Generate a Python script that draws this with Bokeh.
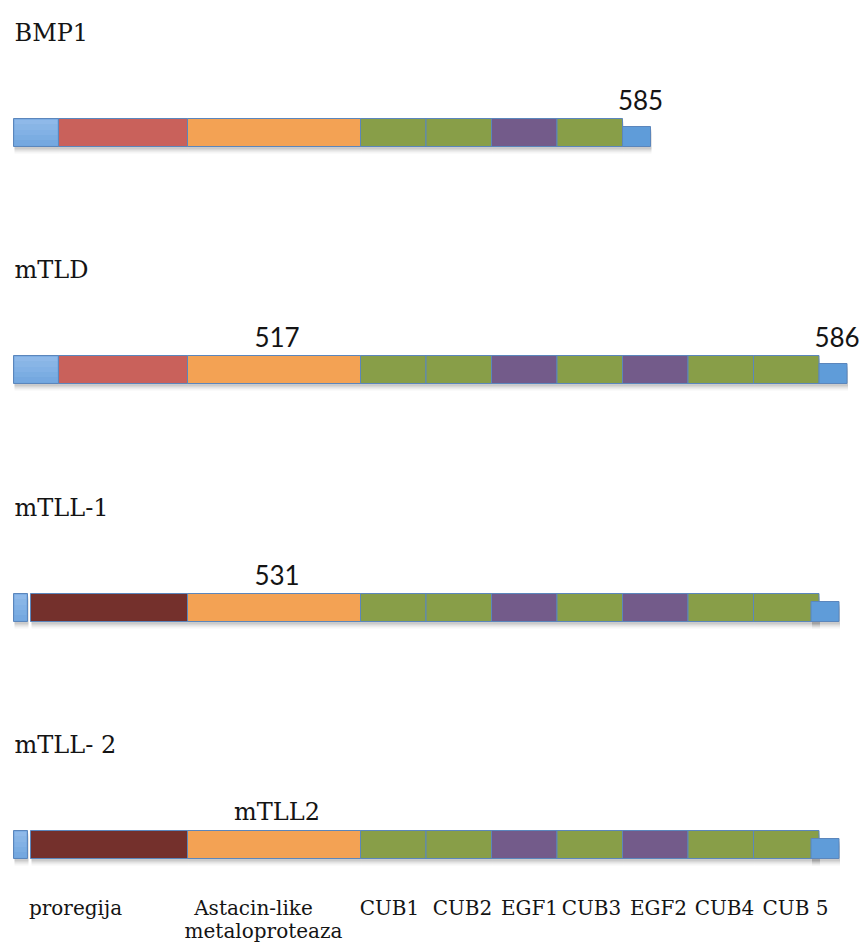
from bokeh.plotting import figure
from bokeh.models import Range1d, ColumnDataSource
from bokeh.core.properties import value
from bokeh.embed import file_html
from bokeh.resources import INLINE

# ---------------- data ----------------
proteins = ["BMP1", "mTLD", "mTLL-1", "mTLL- 2"]

arch_bmp1 = ["signal", "pro", "astacin", "CUB", "CUB", "EGF", "CUB"]
arch_mtld = ["signal", "pro", "astacin", "CUB", "CUB", "EGF", "CUB", "EGF", "CUB", "CUB"]
arch_mtll1 = ["signal_s", "gap", "pro_dark", "astacin", "CUB", "CUB", "EGF", "CUB", "EGF", "CUB", "CUB"]
arch_mtll2 = ["signal_s", "gap", "pro_dark", "astacin", "CUB", "CUB", "EGF", "CUB", "EGF", "CUB", "CUB"]
architectures = [arch_bmp1, arch_mtld, arch_mtll1, arch_mtll2]

domain_names = ["signal", "signal_s", "gap", "pro", "pro_dark", "astacin", "CUB", "EGF"]
domain_lengths = [45, 14, 3, 129, 157, 173, 65.5, 65.5]

tail_length = 28
tail_overlap = [0, 0, 8, 8]

annot_text = ["585", "517", "586", "531", "mTLL2"]
annot_row = [0, 1, 1, 2, 3]
annot_anchor = ["tail", "astacin", "tail", "astacin", "astacin"]
annot_font = ["sans", "sans", "sans", "sans", "serif"]

bottom_labels = ["proregija", "Astacin-like", "metaloproteaza", "CUB1", "CUB2",
                 "EGF1", "CUB3", "EGF2", "CUB4", "CUB 5"]
bottom_label_x = [75, 253, 263, 389, 462, 529, 591, 658, 724, 795]
bottom_label_line = [0, 0, 1, 0, 0, 0, 0, 0, 0, 0]

# ---------------- styles / layout ----------------
COLORS = {"signal": "#6FA4DE", "signal_s": "#6FA4DE", "pro": "#C9615B",
          "pro_dark": "#74302C", "astacin": "#F3A254", "CUB": "#889E48",
          "EGF": "#735B8A", "tail": "#5F9CD9"}
X0 = 13
ROW_TOP = [118, 355, 593, 830]
BAR_H = 28
TAIL_H = 20
TAIL_SHIFT = 4
TITLE_GAP = 86
ANNOT_GAP = 19
BOTTOM_BASE = 907
LINE_GAP = 23

length_of = dict(zip(domain_names, domain_lengths))

W, H = 863, 943
p = figure(width=W, height=H, output_backend="svg", toolbar_location=None,
           x_range=Range1d(0, W), y_range=Range1d(H, 0),
           min_border=0)
p.axis.visible = False
p.grid.visible = False
p.outline_line_color = None
p.background_fill_color = "white"
p.border_fill_color = "white"

seg = dict(left=[], right=[], top=[], bottom=[], color=[])
tails = dict(left=[], right=[], top=[], bottom=[], color=[])
sig = dict(left=[], right=[], top=[], bottom=[])
anchors = []
for r, arch in enumerate(architectures):
    x = X0
    top = ROW_TOP[r]
    anc = {}
    for d in arch:
        w = length_of[d]
        if d != "gap":
            seg["left"].append(x)
            seg["right"].append(x + w)
            seg["top"].append(top)
            seg["bottom"].append(top + BAR_H)
            seg["color"].append(COLORS[d])
            if d.startswith("signal"):
                sig["left"].append(x); sig["right"].append(x + w)
                sig["top"].append(top); sig["bottom"].append(top + BAR_H)
            if d not in anc:
                anc[d] = x + w / 2
        x += w
    tl = x - tail_overlap[r]
    tc = top + BAR_H / 2 + TAIL_SHIFT
    tails["left"].append(tl)
    tails["right"].append(tl + tail_length)
    tails["top"].append(tc - TAIL_H / 2)
    tails["bottom"].append(tc + TAIL_H / 2)
    tails["color"].append(COLORS["tail"])
    anc["tail"] = tl + tail_length / 2
    anchors.append(anc)

# shadows
for dy, a in [(7, 0.04), (5, 0.07), (3, 0.10)]:
    for src in (seg, tails):
        p.quad(left=[v + 1 for v in src["left"]], right=[v + 1 for v in src["right"]],
               top=[v + dy for v in src["top"]], bottom=[v + dy for v in src["bottom"]],
               fill_color="black", fill_alpha=a, line_color=None)

p.quad(left="left", right="right", top="top", bottom="bottom", source=ColumnDataSource(seg),
       fill_color="color", line_color="#5B86BC", line_width=1)

# gradient highlight on signal peptide
n = 5
for i in range(n):
    frac0, frac1 = i / n, (i + 1) / n
    p.quad(left=[l + 1 for l in sig["left"]], right=[rr - 1 for rr in sig["right"]],
           top=[t + 1 + (b - t - 2) * frac0 for t, b in zip(sig["top"], sig["bottom"])],
           bottom=[t + 1 + (b - t - 2) * frac1 for t, b in zip(sig["top"], sig["bottom"])],
           fill_color="#A9CBF2", fill_alpha=0.55 * (1 - i / n), line_color=None)

p.quad(left="left", right="right", top="top", bottom="bottom", source=ColumnDataSource(tails),
       fill_color="color", line_color="#5B86BC", line_width=1)

# titles
p.text(x=[X0 + 1] * len(proteins), y=[t - TITLE_GAP for t in ROW_TOP], text=proteins,
       text_font=value("DejaVu Serif"), text_font_size="24px", text_color="#141414",
       text_align="left", text_baseline="alphabetic")

# annotations
for t, r, a, f in zip(annot_text, annot_row, annot_anchor, annot_font):
    p.text(x=[anchors[r][a] + (4 if a == "tail" else 3)], y=[ROW_TOP[r] - ANNOT_GAP], text=[t],
           text_font=value("Lato" if f == "sans" else "DejaVu Serif"),
           text_font_size="26px" if f == "sans" else "24px", text_color="#141414",
           text_align="center", text_baseline="alphabetic")

# bottom labels
p.text(x=bottom_label_x, y=[BOTTOM_BASE + LINE_GAP * l for l in bottom_label_line], text=bottom_labels,
       text_font=value("DejaVu Serif"), text_font_size="20px", text_color="#141414",
       text_align="center", text_baseline="alphabetic")

open("out.html", "w").write(file_html(p, INLINE))
